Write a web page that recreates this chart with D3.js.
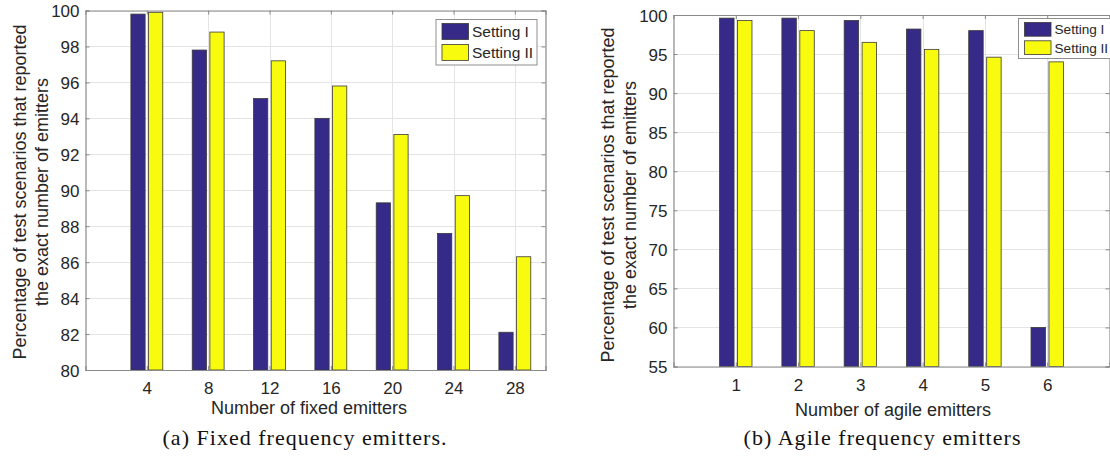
<!DOCTYPE html>
<html>
<head>
<meta charset="utf-8">
<script src="https://cdn.jsdelivr.net/npm/d3@7"></script>
<style>
  html, body { margin: 0; padding: 0; background: #fff; }
  svg { display: block; }
</style>
</head>
<body>
<svg id="chart" width="1110" height="456"></svg>
<script>
// ---------- data ----------
const seriesNames = ["Setting I", "Setting II"];

const fixedCategories = [4, 8, 12, 16, 20, 24, 28];
const fixedSetting1 = [99.8, 97.8, 95.1, 94.0, 89.3, 87.6, 82.1];
const fixedSetting2 = [99.9, 98.8, 97.2, 95.8, 93.1, 89.7, 86.3];
const fixedYTicks = [80, 82, 84, 86, 88, 90, 92, 94, 96, 98, 100];
const fixedXLabel = "Number of fixed emitters";
const fixedCaption = "(a) Fixed frequency emitters.";

const agileCategories = [1, 2, 3, 4, 5, 6];
const agileSetting1 = [99.6, 99.6, 99.3, 98.2, 98.0, 60.0];
const agileSetting2 = [99.3, 98.0, 96.5, 95.6, 94.6, 94.0];
const agileYTicks = [55, 60, 65, 70, 75, 80, 85, 90, 95, 100];
const agileXLabel = "Number of agile emitters";
const agileCaption = "(b) Agile frequency emitters";

const yLabelLines = ["Percentage of test scenarios that reported", "the exact number of emitters"];

// ---------- style ----------
const colors = ["#352a87", "#f9fb0e"];
const axisColor = "#8a8a8a";
const gridColor = "#e4e4e4";
const textColor = "#262626";
const sansFont = "'Liberation Sans', Arial, Helvetica, sans-serif";
const serifFont = "'Liberation Serif', 'DejaVu Serif', serif";

const svg = d3.select("#chart");

function drawPanel(cfg) {
  const { left, right, top, bottom } = cfg.box;
  const x = d3.scaleLinear().domain(cfg.xDomain).range([left, right]);
  const y = d3.scaleLinear().domain(cfg.yDomain).range([bottom, top]);
  const g = svg.append("g");
  const step = x(cfg.categories[1]) - x(cfg.categories[0]);
  const barW = step * 0.232;
  const offs = [-step * 0.144, step * 0.144];

  // grid
  const grid = g.append("g");
  grid.selectAll("line.gy").data(cfg.yTicks).join("line")
    .attr("x1", left).attr("x2", right)
    .attr("y1", d => Math.round(y(d)) + 0.5).attr("y2", d => Math.round(y(d)) + 0.5)
    .attr("stroke", gridColor).attr("stroke-width", 1);
  grid.selectAll("line.gx").data(cfg.categories).join("line")
    .attr("x1", d => Math.round(x(d)) + 0.5).attr("x2", d => Math.round(x(d)) + 0.5)
    .attr("y1", top).attr("y2", bottom)
    .attr("stroke", gridColor).attr("stroke-width", 1);

  // bars
  cfg.series.forEach((vals, si) => {
    g.append("g").selectAll("rect").data(vals).join("rect")
      .attr("x", (d, i) => x(cfg.categories[i]) + offs[si] - barW / 2)
      .attr("width", barW)
      .attr("y", d => y(d))
      .attr("height", d => y(cfg.yDomain[0]) - y(d))
      .attr("fill", colors[si])
      .attr("stroke", "#3a3a3a")
      .attr("stroke-width", 0.8);
  });

  // axes (ticks inward)
  const axL = d3.axisLeft(y).tickValues(cfg.yTicks).tickSize(-4).tickPadding(6).tickFormat(d3.format("d"));
  const axR = d3.axisRight(y).tickValues(cfg.yTicks).tickSize(-4).tickFormat("");
  const axB = d3.axisBottom(x).tickValues(cfg.categories).tickSize(-4).tickPadding(12).tickFormat(d3.format("d"));
  const axT = d3.axisTop(x).tickValues(cfg.categories).tickSize(-4).tickFormat("");

  const gl = g.append("g").attr("transform", `translate(${left},0)`).call(axL);
  const gr = g.append("g").attr("transform", `translate(${right},0)`).call(axR);
  const gb = g.append("g").attr("transform", `translate(0,${bottom})`).call(axB);
  const gt = g.append("g").attr("transform", `translate(0,${top})`).call(axT);
  [gl, gr, gb, gt].forEach(a => {
    a.select(".domain").attr("stroke", axisColor).attr("stroke-width", 1.2);
    a.selectAll(".tick line").attr("stroke", axisColor);
    a.selectAll("text").attr("fill", textColor).style("font-family", sansFont).style("font-size", "17px");
  });
  gl.selectAll("text").attr("dy", "0.38em");
  gb.selectAll("text").attr("dy", "0.71em");

  // x label
  g.append("text")
    .attr("x", cfg.xLabelX).attr("y", cfg.xLabelY)
    .attr("text-anchor", "middle")
    .attr("fill", textColor)
    .style("font-family", sansFont).style("font-size", "18px")
    .text(cfg.xLabel);

  // y label (two lines)
  yLabelLines.forEach((line, i) => {
    g.append("text")
      .attr("transform", `translate(${left - cfg.yLabelOffsets[i]},${cfg.yLabelCenter}) rotate(-90)`)
      .attr("text-anchor", "middle")
      .attr("fill", textColor)
      .style("font-family", sansFont).style("font-size", "18px")
      .text(line);
  });

  // legend
  const L = cfg.legend;
  const lg = g.append("g");
  lg.append("rect")
    .attr("x", L.x).attr("y", L.y).attr("width", L.w).attr("height", L.h)
    .attr("fill", "#fff").attr("stroke", "#8f8f8f").attr("stroke-width", 1);
  seriesNames.forEach((name, si) => {
    const sy = L.y + L.pad + si * L.rowH;
    lg.append("rect")
      .attr("x", L.x + 6).attr("y", sy).attr("width", L.sw).attr("height", L.sh)
      .attr("fill", colors[si]).attr("stroke", "#3a3a3a").attr("stroke-width", 0.8);
    lg.append("text")
      .attr("x", L.x + 6 + L.sw + 3.5).attr("y", sy + L.sh / 2)
      .attr("dy", "0.36em")
      .attr("fill", textColor)
      .style("font-family", sansFont).style("font-size", L.font + "px")
      .text(name);
  });

  // caption
  g.append("text")
    .attr("x", cfg.caption.x).attr("y", cfg.caption.y)
    .attr("textLength", cfg.caption.len)
    .attr("lengthAdjust", "spacing")
    .attr("fill", "#111")
    .style("font-family", serifFont).style("font-size", "22px")
    .text(cfg.caption.text);
}

drawPanel({
  box: { left: 85.5, right: 545.5, top: 10.5, bottom: 370 },
  xDomain: [0, 30],
  yDomain: [80, 100],
  categories: fixedCategories,
  series: [fixedSetting1, fixedSetting2],
  yTicks: fixedYTicks,
  xLabel: fixedXLabel,
  xLabelX: 309, xLabelY: 414,
  yLabelOffsets: [59.5, 37.5],
  yLabelCenter: 192,
  legend: { x: 436, y: 19.5, w: 101, h: 45.5, pad: 4, rowH: 21, sw: 26.5, sh: 16, font: 15.5 },
  caption: { x: 162.5, y: 445, len: 284, text: fixedCaption }
});

drawPanel({
  box: { left: 673.5, right: 1109.5, top: 15, bottom: 366.5 },
  xDomain: [0, 7],
  yDomain: [55, 100],
  categories: agileCategories,
  series: [agileSetting1, agileSetting2],
  yTicks: agileYTicks,
  xLabel: agileXLabel,
  xLabelX: 893, xLabelY: 416,
  yLabelOffsets: [59.5, 37.5],
  yLabelCenter: 195,
  legend: { x: 1018.5, y: 18.5, w: 100, h: 40, pad: 4, rowH: 18.3, sw: 26.5, sh: 13.7, font: 13.6 },
  caption: { x: 743.5, y: 444.5, len: 277, text: agileCaption }
});
</script>
</body>
</html>
